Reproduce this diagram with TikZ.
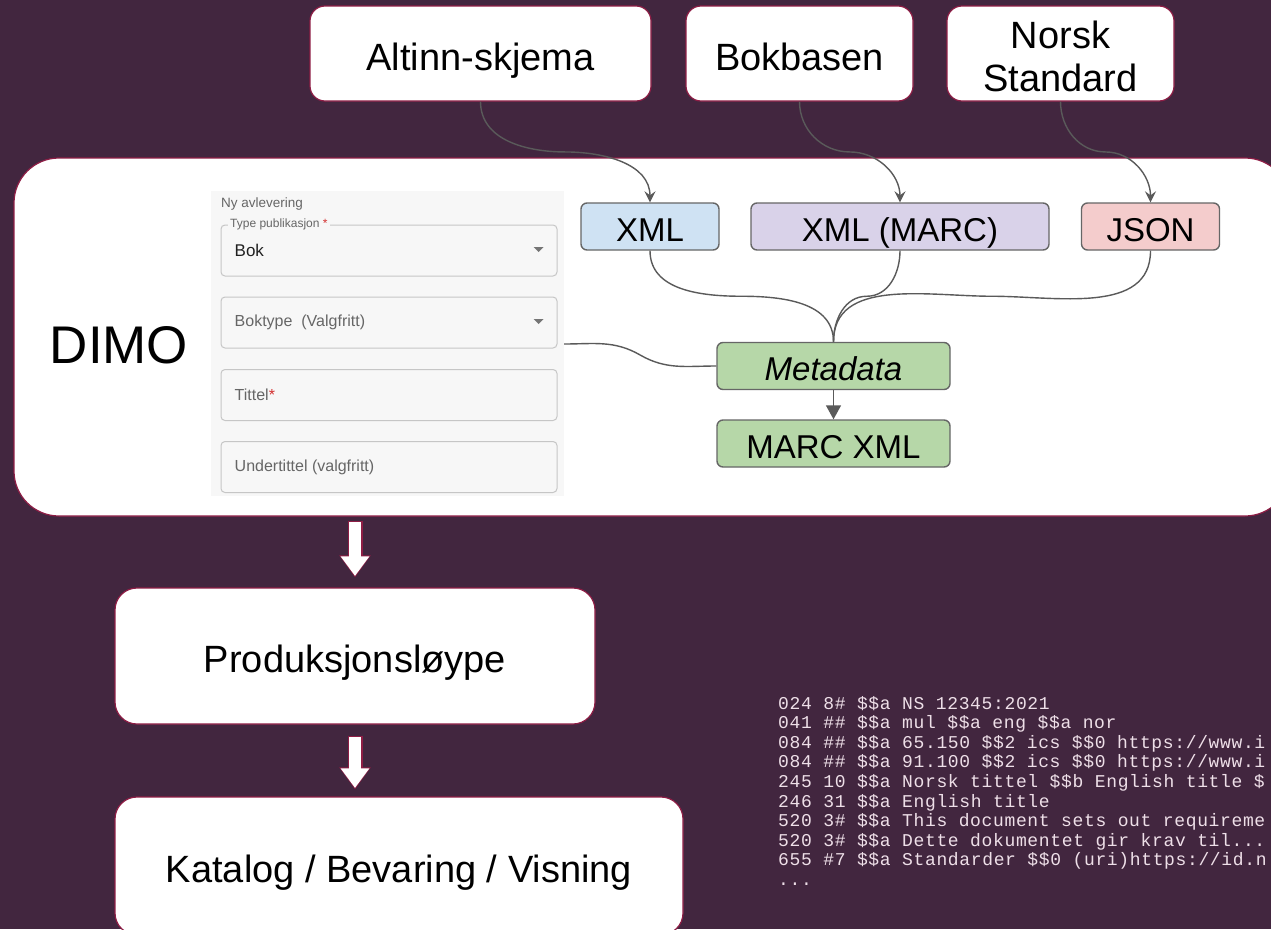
\documentclass[tikz,border=0pt]{standalone}
\usepackage{fontspec}
\setmainfont{Liberation Sans}
\newfontfamily\codefont[LetterSpace=3.6]{Liberation Mono}
\usetikzlibrary{arrows.meta,calc}

\definecolor{bgpurple}{HTML}{42263F}
\definecolor{edgered}{HTML}{8E1D45}
\definecolor{linkgray}{HTML}{5A5A5A}
\definecolor{boxgray}{HTML}{666666}
\definecolor{xmlblue}{HTML}{CFE2F3}
\definecolor{marcviolet}{HTML}{D9D2E9}
\definecolor{jsonpink}{HTML}{F4CCCC}
\definecolor{metagreen}{HTML}{B6D7A8}
\definecolor{formbg}{HTML}{F7F7F7}
\definecolor{fieldline}{HTML}{C6C6C6}
\definecolor{formtext}{HTML}{666666}
\definecolor{formdark}{HTML}{202020}
\definecolor{starred}{HTML}{D32F2F}
\definecolor{codepink}{HTML}{EEDFE8}

\tikzset{
  whitebox/.style={draw=edgered, fill=white, line width=1.2pt, inner sep=0pt, align=center},
  onebase/.style={text height=36pt, text depth=3pt},
  srcbox/.style={whitebox, rounded corners=15pt, minimum height=95pt, font=\fontsize{38}{43}\selectfont},
  stagebox/.style={whitebox, onebase, rounded corners=22pt, font=\fontsize{38}{44}\selectfont},
  fmtbox/.style={draw=boxgray, line width=1.4pt, rounded corners=6pt, minimum height=47pt, inner sep=0pt,
    text height=31pt, text depth=2pt, font=\fontsize{33}{38}\selectfont},
  field/.style={draw=fieldline, line width=1pt, rounded corners=4pt, minimum width=336pt, minimum height=51pt, inner sep=0pt},
  fieldtext/.style={anchor=west, inner sep=0pt, text=formtext, font=\fontsize{16}{19}\selectfont},
  caret/.style={fill=formtext!90},
  link/.style={draw=linkgray, line width=1.4pt},
  feed/.style={link, -{Stealth[length=11pt,width=11pt,inset=4pt]}},
  bigarrow/.style={line width=15pt, draw=edgered, -{Triangle[length=22pt,width=30pt]}},
  bigarrowin/.style={line width=12.6pt, draw=white, -{Triangle[length=19.6pt,width=27.4pt]}}
}

\begin{document}
\begin{tikzpicture}[x=1pt,y=-1pt]
  \useasboundingbox (0,0) rectangle (1271,929);
  \clip (0,0) rectangle (1271,929);
  \fill[bgpurple] (0,0) rectangle (1271,929);

  % sources
  \node[srcbox, onebase, minimum width=341pt] (altinn) at (480.5,53.5) {Altinn-skjema};
  \node[srcbox, onebase, minimum width=227pt] (bokbasen) at (799.5,53.5) {Bokbasen};
  \node[srcbox, minimum width=227pt] (norsk) at (1060.5,53.5)
    {\raisebox{-8pt}[\height][\depth]{\begin{tabular}{@{}c@{}}Norsk\\Standard\end{tabular}}};

  % DIMO
  \node[whitebox, rounded corners=45pt, minimum width=1276pt, minimum height=358pt] (dimo) at (652,337) {};
  \node[inner sep=0pt, font=\fontsize{53}{60}\selectfont] (dimolabel) at (119,345) {DIMO};

  % form screenshot
  \node[fill=formbg, anchor=north west, minimum width=353pt, minimum height=305pt, inner sep=0pt] (form) at (211,191) {};
  \node[anchor=west, inner sep=0pt, text=formtext, font=\fontsize{13.5}{16}\selectfont] (formtitle) at (221,204) {Ny avlevering};
  \node[field] (ftype) at (389,250.5) {};
  \node[field] (fbooktype) at (389,322.5) {};
  \node[field] (ftitle) at (389,395) {};
  \node[field] (fsubtitle) at (389,467) {};
  \node[anchor=west, fill=formbg, inner sep=2.5pt, text=formtext, font=\fontsize{12}{14}\selectfont] (ftypelabel)
    at ([xshift=7pt]ftype.north west) {Type publikasjon \textcolor{starred}{*}};
  \node[fieldtext, text=formdark, font=\fontsize{17}{20}\selectfont] at ([xshift=14pt]ftype.west) {Bok};
  \node[fieldtext] at ([xshift=14pt]fbooktype.west) {Boktype\ \ (Valgfritt)};
  \node[fieldtext] at ([xshift=14pt]ftitle.west) {Tittel\textcolor{starred}{*}};
  \node[fieldtext] at ([xshift=14pt]fsubtitle.west) {Undertittel (valgfritt)};
  \foreach \f in {ftype,fbooktype}
    \fill[caret] ([xshift=-19pt,yshift=1pt]\f.east) ++(-5,-2.5) -- ++(10,0) -- ++(-5,5) -- cycle;
  \coordinate (formlink) at (564,344);

  % formats
  \node[fmtbox, fill=xmlblue, minimum width=138pt] (xml) at (650,226.5) {XML};
  \node[fmtbox, fill=marcviolet, minimum width=298pt] (xmlmarc) at (900,226.5) {XML (MARC)};
  \node[fmtbox, fill=jsonpink, minimum width=138pt] (json) at (1150.5,226.5) {JSON};
  \node[fmtbox, fill=metagreen, minimum width=233pt, font=\fontsize{33}{38}\selectfont\itshape] (meta) at (833.5,366) {Metadata};
  \node[fmtbox, fill=metagreen, minimum width=233pt] (marcxml) at (833.5,443.5) {MARC XML};

  % feeds into DIMO
  \draw[feed] (altinn.south) to[out=-90,in=180] ($(altinn.south)!0.5!(xml.north)$) to[out=0,in=90] (xml.north);
  \draw[feed] (bokbasen.south) to[out=-90,in=180] ($(bokbasen.south)!0.5!(xmlmarc.north)$) to[out=0,in=90] (xmlmarc.north);
  \draw[feed] (norsk.south) to[out=-90,in=180] ($(norsk.south)!0.5!(json.north)$) to[out=0,in=90] (json.north);

  % formats to metadata
  \draw[link] (xml.south) to[out=-90,in=180] ($(xml.south)!0.5!(meta.north)$) to[out=0,in=90] (meta.north);
  \draw[link] (xmlmarc.south) to[out=-90,in=0] ($(xmlmarc.south)!0.5!(meta.north)$) to[out=180,in=90] (meta.north);
  \draw[link] (json.south) to[out=-90,in=0] ($(json.south)!0.5!(meta.north)$) to[out=180,in=90] (meta.north);
  \draw[link] (formlink) to[out=0,in=150] ($(formlink)!0.5!(meta.west)$) to[out=-30,in=180] (meta.west);
  \draw[link, -{Triangle[length=14pt,width=15pt]}] (meta) -- (marcxml);

  % stages
  \node[stagebox, minimum width=480pt, minimum height=136pt] (prod) at (355,656) {Produksjonsløype};
  \node[stagebox, minimum width=568pt, minimum height=138pt] (katalog) at (399,866) {Katalog / Bevaring / Visning};
  \draw[bigarrow, shorten <=4pt, shorten >=10pt] (prod.north |- dimo.south) -- (prod.north);
  \draw[bigarrowin, shorten <=5.2pt, shorten >=11.4pt] (prod.north |- dimo.south) -- (prod.north);
  \draw[bigarrow, shorten <=11pt, shorten >=7pt] (prod.south) -- (prod.south |- katalog.north);
  \draw[bigarrowin, shorten <=12.2pt, shorten >=8.4pt] (prod.south) -- (prod.south |- katalog.north);

  % MARC record
  \node[anchor=north west, inner sep=0pt, align=left, text=codepink, font=\codefont\fontsize{18}{19.6}\selectfont] (record) at (778,696)
  {024 8\# \$\$a NS 12345:2021\\
   041 \#\# \$\$a mul \$\$a eng \$\$a nor\\
   084 \#\# \$\$a 65.150 \$\$2 ics \$\$0 https://www.i\\
   084 \#\# \$\$a 91.100 \$\$2 ics \$\$0 https://www.i\\
   245 10 \$\$a Norsk tittel \$\$b English title \$\\
   246 31 \$\$a English title\\
   520 3\# \$\$a This document sets out requireme\\
   520 3\# \$\$a Dette dokumentet gir krav til...\\
   655 \#7 \$\$a Standarder \$\$0 (uri)https://id.n\\
   ...};
\end{tikzpicture}
\end{document}
